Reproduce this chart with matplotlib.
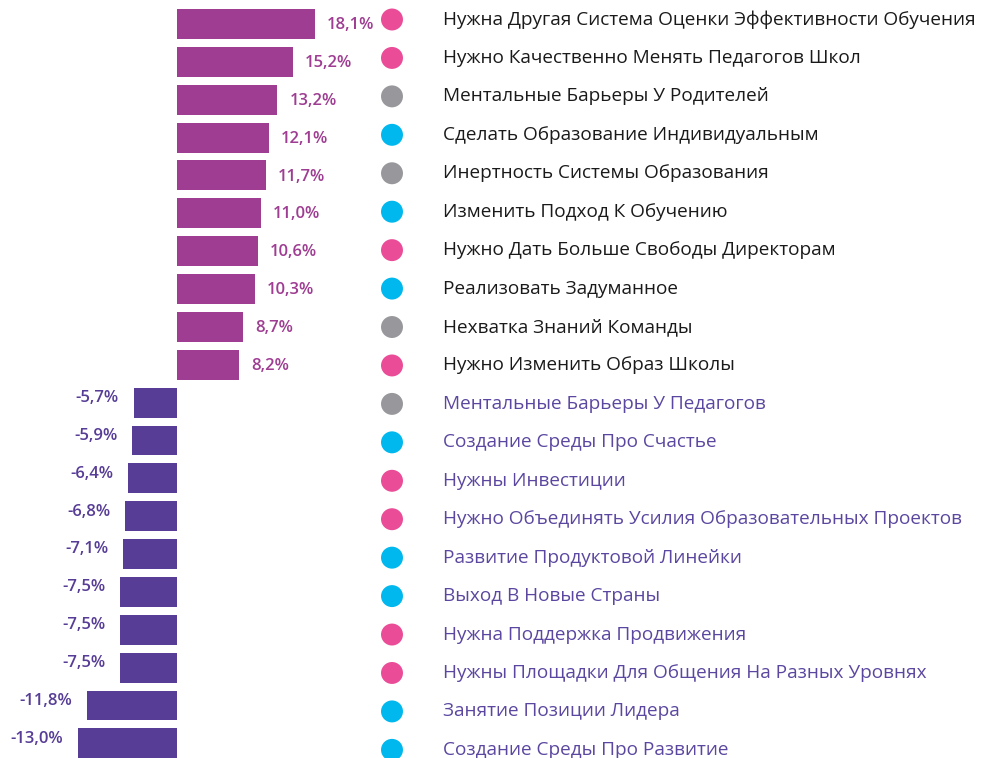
import matplotlib.pyplot as plt

plt.rcParams['font.family'] = ['Open Sans', 'DejaVu Sans']

categories = [
    "Нужна Другая Система Оценки Эффективности Обучения",
    "Нужно Качественно Менять Педагогов Школ",
    "Ментальные Барьеры У Родителей",
    "Сделать Образование Индивидуальным",
    "Инертность Системы Образования",
    "Изменить Подход К Обучению",
    "Нужно Дать Больше Свободы Директорам",
    "Реализовать Задуманное",
    "Нехватка Знаний Команды",
    "Нужно Изменить Образ Школы",
    "Ментальные Барьеры У Педагогов",
    "Создание Среды Про Счастье",
    "Нужны Инвестиции",
    "Нужно Объединять Усилия Образовательных Проектов",
    "Развитие Продуктовой Линейки",
    "Выход В Новые Страны",
    "Нужна Поддержка Продвижения",
    "Нужны Площадки Для Общения На Разных Уровнях",
    "Занятие Позиции Лидера",
    "Создание Среды Про Развитие",
]
values = [18.1, 15.2, 13.2, 12.1, 11.7, 11.0, 10.6, 10.3, 8.7, 8.2,
          -5.7, -5.9, -6.4, -6.8, -7.1, -7.5, -7.5, -7.5, -11.8, -13.0]
# dot group per row: p = pink, g = grey, c = cyan
groups = ["p", "p", "g", "c", "g", "c", "p", "c", "g", "p",
          "g", "c", "p", "p", "c", "c", "p", "p", "c", "c"]

dot_colors = {"p": "#ea4c97", "g": "#98989c", "c": "#00b8ee"}
pos_color = "#9e3d92"
neg_color = "#573d96"
neg_text = "#5b47a0"

W, H = 984, 758
zero_px = 177
px_per_unit = 7.6
row0_px = 24
pitch = 37.86
# the legend column (dots + names) runs on a slightly looser pitch
leg0_px = 19.5
leg_pitch = 38.44

fig = plt.figure(figsize=(W / 100, H / 100), dpi=100)
ax = fig.add_axes([0, 0, 1, 1])
ax.set_xlim(-zero_px / px_per_unit, (W - zero_px) / px_per_unit)
ax.set_ylim((H - row0_px) / pitch, -row0_px / pitch)
ax.axis("off")

rows = list(range(len(values)))
bar_cols = [pos_color if v > 0 else neg_color for v in values]
ax.barh(rows, values, height=0.79, color=bar_cols)

for i, v in enumerate(values):
    txt = f"{v:.1f}%".replace(".", ",")
    if v > 0:
        ax.text(v + 12 / px_per_unit, i + 0.03, txt, ha="left", va="center",
                fontsize=12, color=pos_color, fontweight="semibold")
    else:
        ax.text(v - 15 / px_per_unit, i - 0.12, txt, ha="right", va="center",
                fontsize=12, color=neg_color, fontweight="semibold")

dot_x = (392 - zero_px) / px_per_unit
label_x = (443 - zero_px) / px_per_unit
leg_y = [(leg0_px + i * leg_pitch - row0_px) / pitch for i in rows]
ax.scatter([dot_x] * len(rows), leg_y, s=250,
           c=[dot_colors[g] for g in groups], linewidths=0, clip_on=False)

for name, v, y in zip(categories, values, leg_y):
    ax.text(label_x, y, name, ha="left", va="center", fontsize=13.7,
            color="#1a1a1a" if v > 0 else neg_text)

fig.savefig("out.png", dpi=100)
